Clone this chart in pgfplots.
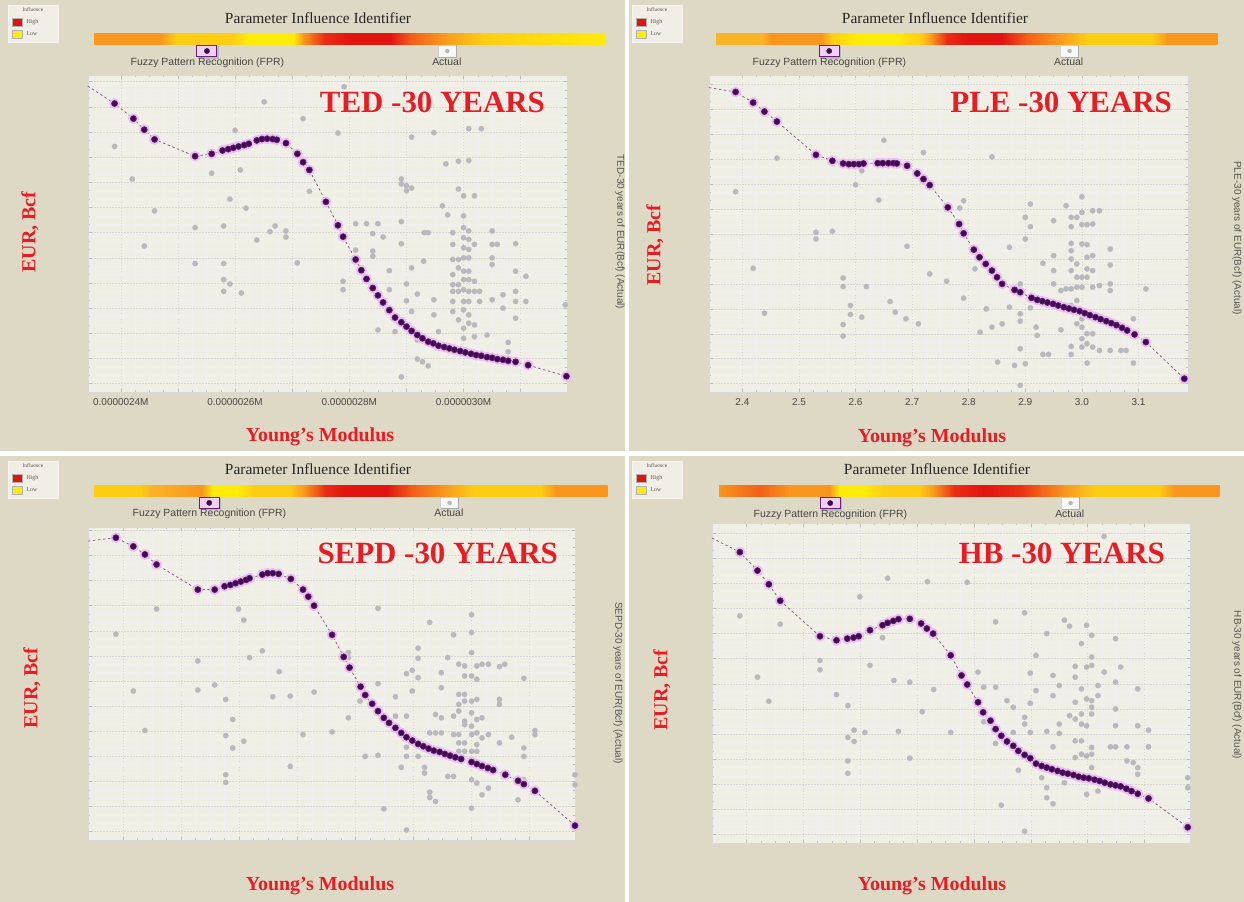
\documentclass[border=0pt]{standalone}
\usepackage{fontspec}
\setmainfont{Liberation Serif}
\setsansfont{Liberation Sans}
\usepackage{pgfplots}
\usepackage{pgfplotstable}
\pgfplotsset{compat=1.18}

\definecolor{panelbg}{RGB}{221,217,197}
\definecolor{plotbg}{RGB}{240,239,229}
\definecolor{actualgray}{RGB}{185,185,189}
\definecolor{fprdot}{RGB}{60,12,76}
\definecolor{fprmid}{RGB}{105,30,120}
\definecolor{fprline}{RGB}{140,95,145}
\definecolor{fprglow}{RGB}{234,190,240}
\definecolor{titlered}{RGB}{232,28,36}
\definecolor{bo}{RGB}{248,150,30}
\definecolor{blo}{RGB}{250,180,40}
\definecolor{byo}{RGB}{253,205,20}
\definecolor{by}{RGB}{255,235,10}
\definecolor{br}{RGB}{235,45,20}
\definecolor{bdr}{RGB}{225,20,15}
\definecolor{bro}{RGB}{242,95,25}

% ---------------- data ----------------
\pgfplotstableread[row sep=\\]{x y\\
2.342 91.2\\ 2.389 86.0\\ 2.422 81.5\\ 2.441 78.2\\ 2.459 75.3\\ 2.530 70.3\\ 2.559 71.0\\ 2.578 72.0\\
2.588 72.4\\ 2.597 72.8\\ 2.606 73.2\\ 2.616 73.6\\ 2.624 74.0\\ 2.638 75.0\\ 2.647 75.4\\ 2.656 75.5\\
2.666 75.4\\ 2.673 75.2\\ 2.689 74.2\\ 2.709 71.0\\ 2.719 68.5\\ 2.730 66.2\\ 2.759 56.7\\ 2.780 49.7\\
2.789 46.3\\ 2.811 39.5\\ 2.821 36.3\\ 2.830 33.7\\ 2.841 31.0\\ 2.850 28.8\\ 2.859 26.7\\ 2.870 24.4\\
2.880 22.2\\ 2.891 20.8\\ 2.900 19.5\\ 2.909 18.2\\ 2.919 17.0\\ 2.928 16.0\\ 2.938 15.0\\ 2.947 14.5\\
2.956 13.8\\ 2.966 13.4\\ 2.975 13.0\\ 2.984 12.6\\ 2.994 12.2\\ 3.003 11.8\\ 3.013 11.4\\ 3.022 11.0\\
3.031 10.8\\ 3.041 10.4\\ 3.050 10.2\\ 3.059 9.8\\ 3.069 9.6\\ 3.078 9.3\\ 3.091 9.0\\ 3.113 8.0\\ 3.180 4.7\\
}\tedFPR

\pgfplotstableread[row sep=\\]{x y\\
2.389 73.2\\ 2.420 63.5\\ 2.441 43.5\\ 2.459 54.0\\ 2.530 49.0\\ 2.530 38.3\\ 2.559 65.2\\ 2.580 49.5\\
2.580 38.3\\ 2.580 33.5\\ 2.591 32.2\\ 2.580 30.0\\ 2.591 57.5\\ 2.600 78.0\\ 2.609 66.2\\ 2.611 29.5\\
2.619 54.8\\ 2.638 45.3\\ 2.651 86.5\\ 2.661 47.8\\ 2.670 49.5\\ 2.689 48.0\\ 2.689 46.2\\ 2.709 38.5\\
2.719 81.5\\ 2.730 59.8\\ 2.780 77.2\\ 2.791 91.0\\ 2.789 33.0\\ 2.789 30.5\\ 2.811 50.2\\ 2.811 42.3\\
2.830 50.2\\ 2.841 47.2\\ 2.841 42.0\\ 2.841 40.5\\ 2.850 50.2\\ 2.859 46.2\\ 2.870 36.2\\ 2.870 30.5\\
2.850 18.5\\ 2.880 18.0\\ 2.891 63.5\\ 2.891 62.0\\ 2.891 50.8\\ 2.891 44.2\\ 2.891 4.5\\ 2.900 61.5\\
2.900 60.0\\ 2.909 60.8\\ 2.909 76.0\\ 2.909 37.0\\ 2.900 32.2\\ 2.900 27.2\\ 2.909 24.0\\ 2.919 29.2\\
2.919 15.5\\ 2.919 9.8\\ 2.928 9.0\\ 2.938 7.8\\ 2.930 39.0\\ 2.931 47.5\\ 2.938 47.5\\ 2.948 77.3\\
2.948 27.5\\ 2.948 23.0\\ 2.956 18.0\\ 2.963 55.5\\ 2.969 68.0\\ 2.972 52.8\\ 2.981 47.5\\ 2.981 44.0\\
2.981 39.5\\ 2.981 35.0\\ 2.981 32.0\\ 2.981 30.0\\ 2.981 27.0\\ 2.981 24.0\\ 2.991 68.8\\ 2.991 60.5\\
2.991 39.5\\ 2.991 37.0\\ 2.991 32.0\\ 2.991 30.0\\ 2.991 21.5\\ 3.000 58.5\\ 3.000 52.5\\ 3.000 49.0\\
3.000 46.0\\ 3.000 43.0\\ 3.000 40.0\\ 3.000 36.0\\ 3.000 33.5\\ 3.000 30.5\\ 3.000 27.0\\ 3.000 24.5\\
3.000 19.0\\ 3.000 16.0\\ 3.009 78.5\\ 3.009 69.0\\ 3.009 48.0\\ 3.009 45.5\\ 3.009 42.5\\ 3.009 40.0\\
3.009 36.0\\ 3.009 33.5\\ 3.009 30.0\\ 3.009 27.0\\ 3.009 23.0\\ 3.009 20.5\\ 3.019 58.5\\ 3.019 44.0\\
3.019 33.0\\ 3.019 30.0\\ 3.019 20.0\\ 3.019 16.5\\ 3.028 30.0\\ 3.028 27.0\\ 3.031 78.5\\ 3.041 17.0\\
3.050 48.0\\ 3.050 44.0\\ 3.050 40.0\\ 3.050 38.0\\ 3.050 27.5\\ 3.059 44.0\\ 3.069 29.0\\ 3.069 25.0\\
3.078 14.8\\ 3.078 12.0\\ 3.091 44.2\\ 3.091 36.0\\ 3.091 30.0\\ 3.091 27.0\\ 3.091 22.0\\ 3.109 34.5\\
3.109 27.0\\ 3.178 26.0\\
}\tedActual

\pgfplotstableread[row sep=\\]{x y\\
2.341 91.5\\ 2.388 90.2\\ 2.419 87.0\\ 2.439 84.3\\ 2.461 81.3\\ 2.530 71.3\\ 2.559 69.5\\ 2.578 68.7\\
2.588 68.5\\ 2.597 68.5\\ 2.606 68.5\\ 2.614 68.7\\ 2.639 68.8\\ 2.648 68.8\\ 2.658 68.8\\ 2.667 68.8\\
2.673 68.7\\ 2.691 68.0\\ 2.709 65.7\\ 2.720 64.0\\ 2.731 62.2\\ 2.763 55.5\\ 2.783 50.5\\ 2.791 47.7\\
2.809 42.8\\ 2.819 40.5\\ 2.830 38.5\\ 2.841 36.5\\ 2.850 34.5\\ 2.859 32.5\\ 2.881 30.7\\ 2.891 30.0\\
2.911 28.3\\ 2.921 27.7\\ 2.930 27.3\\ 2.939 26.9\\ 2.949 26.5\\ 2.958 26.0\\ 2.968 25.5\\ 2.977 25.1\\
2.986 24.7\\ 2.996 24.3\\ 3.005 23.7\\ 3.014 23.1\\ 3.024 22.5\\ 3.033 21.9\\ 3.043 21.3\\ 3.052 20.7\\
3.061 20.1\\ 3.071 19.3\\ 3.080 18.5\\ 3.093 17.3\\ 3.113 15.0\\ 3.181 4.0\\
}\pleFPR

\pgfplotstableread[row sep=\\]{x y\\
2.388 60.2\\ 2.419 37.2\\ 2.439 23.7\\ 2.461 70.3\\ 2.530 48.0\\ 2.530 46.0\\ 2.559 48.3\\ 2.578 34.3\\
2.578 31.7\\ 2.578 20.3\\ 2.578 16.8\\ 2.591 26.0\\ 2.591 23.3\\ 2.600 62.3\\ 2.611 66.5\\ 2.611 22.5\\
2.619 31.7\\ 2.641 57.7\\ 2.650 75.7\\ 2.661 27.2\\ 2.670 24.0\\ 2.689 22.0\\ 2.691 43.8\\ 2.711 20.5\\
2.720 72.0\\ 2.731 35.5\\ 2.761 33.3\\ 2.784 55.3\\ 2.791 57.5\\ 2.791 28.2\\ 2.811 37.0\\ 2.820 18.0\\
2.831 25.0\\ 2.841 70.7\\ 2.841 19.5\\ 2.851 9.0\\ 2.859 20.5\\ 2.872 43.5\\ 2.872 25.5\\ 2.881 8.0\\
2.891 32.5\\ 2.891 23.5\\ 2.891 21.3\\ 2.891 13.0\\ 2.891 2.0\\ 2.900 52.5\\ 2.900 46.0\\ 2.900 8.5\\
2.909 56.5\\ 2.909 49.7\\ 2.909 25.3\\ 2.919 19.5\\ 2.921 17.0\\ 2.931 38.7\\ 2.931 11.3\\ 2.941 11.3\\
2.950 41.0\\ 2.950 36.5\\ 2.950 32.5\\ 2.950 51.5\\ 2.963 30.5\\ 2.963 18.7\\ 2.972 56.0\\ 2.972 31.0\\
2.981 52.5\\ 2.981 49.7\\ 2.981 44.7\\ 2.981 42.5\\ 2.981 40.0\\ 2.981 36.5\\ 2.981 31.0\\ 2.981 26.0\\
2.981 13.7\\ 2.981 11.3\\ 2.991 52.5\\ 2.991 38.5\\ 2.991 34.5\\ 2.991 31.5\\ 2.991 27.5\\ 2.991 20.5\\
3.000 58.7\\ 3.000 54.0\\ 3.000 50.3\\ 3.000 44.5\\ 3.000 34.5\\ 3.000 31.5\\ 3.000 22.0\\ 3.000 19.5\\
3.000 16.0\\ 3.000 13.5\\ 3.009 50.3\\ 3.009 44.3\\ 3.009 40.5\\ 3.009 37.0\\ 3.009 34.5\\ 3.009 17.5\\
3.009 14.5\\ 3.009 8.7\\ 3.019 54.5\\ 3.019 50.5\\ 3.019 41.0\\ 3.019 36.5\\ 3.019 31.5\\ 3.019 17.5\\
3.019 13.5\\ 3.031 54.5\\ 3.031 32.0\\ 3.031 12.5\\ 3.041 21.0\\ 3.050 43.0\\ 3.050 38.2\\ 3.050 32.5\\
3.050 30.5\\ 3.050 12.5\\ 3.069 12.5\\ 3.078 12.5\\ 3.091 22.0\\ 3.091 8.7\\ 3.113 31.0\\
}\pleActual

\pgfplotstableread[row sep=\\]{x y\\
2.340 89.3\\ 2.388 90.3\\ 2.418 87.7\\ 2.438 85.3\\ 2.458 82.3\\ 2.529 74.8\\ 2.558 74.8\\ 2.575 75.8\\
2.585 76.2\\ 2.594 76.7\\ 2.603 77.2\\ 2.612 77.7\\ 2.618 78.2\\ 2.640 79.3\\ 2.649 79.7\\ 2.658 79.7\\
2.668 79.5\\ 2.689 78.0\\ 2.710 74.8\\ 2.719 72.7\\ 2.729 70.0\\ 2.760 61.3\\ 2.780 54.7\\ 2.790 51.5\\
2.809 45.8\\ 2.817 43.3\\ 2.829 40.7\\ 2.839 38.5\\ 2.849 36.5\\ 2.858 35.0\\ 2.869 33.5\\ 2.879 32.0\\
2.888 30.7\\ 2.898 29.7\\ 2.908 28.7\\ 2.917 28.0\\ 2.926 27.3\\ 2.935 26.7\\ 2.945 26.3\\ 2.954 25.7\\
2.963 25.2\\ 2.972 24.7\\ 2.982 24.2\\ 3.000 23.3\\ 3.009 22.7\\ 3.018 22.1\\ 3.028 21.5\\ 3.037 20.9\\
3.058 19.5\\ 3.080 17.7\\ 3.090 16.7\\ 3.109 14.7\\ 3.178 4.3\\
}\sepdFPR

\pgfplotstableread[row sep=\\]{x y\\
2.388 61.5\\ 2.418 44.5\\ 2.438 32.7\\ 2.458 69.0\\ 2.529 53.5\\ 2.529 44.8\\ 2.558 46.3\\ 2.577 42.0\\
2.577 31.2\\ 2.577 19.5\\ 2.577 17.2\\ 2.589 36.0\\ 2.589 27.5\\ 2.599 69.0\\ 2.608 65.7\\ 2.608 29.5\\
2.618 54.5\\ 2.640 56.5\\ 2.658 42.8\\ 2.669 50.3\\ 2.688 43.0\\ 2.688 22.0\\ 2.710 31.5\\ 2.729 44.2\\
2.760 32.3\\ 2.788 56.0\\ 2.788 54.5\\ 2.788 36.5\\ 2.808 41.5\\ 2.817 25.0\\ 2.839 69.2\\ 2.839 46.7\\
2.839 25.3\\ 2.849 9.3\\ 2.869 42.8\\ 2.869 37.0\\ 2.879 21.7\\ 2.888 49.7\\ 2.888 37.0\\ 2.888 27.7\\
2.888 25.0\\ 2.888 3.0\\ 2.898 50.7\\ 2.898 44.5\\ 2.908 57.3\\ 2.908 54.3\\ 2.908 48.5\\ 2.908 25.0\\
2.919 21.7\\ 2.919 20.0\\ 2.928 65.0\\ 2.928 32.0\\ 2.928 14.3\\ 2.928 12.7\\ 2.938 37.5\\ 2.938 32.0\\
2.938 11.5\\ 2.948 50.0\\ 2.948 45.5\\ 2.948 36.5\\ 2.948 32.0\\ 2.959 54.5\\ 2.959 19.0\\ 2.969 61.3\\
2.969 37.0\\ 2.969 31.5\\ 2.969 19.0\\ 2.978 52.5\\ 2.978 43.5\\ 2.978 40.5\\ 2.978 38.5\\ 2.978 31.5\\
2.978 29.0\\ 2.978 26.5\\ 2.988 52.0\\ 2.988 49.0\\ 2.988 43.5\\ 2.988 41.5\\ 2.988 35.5\\ 2.988 34.5\\
2.988 29.0\\ 2.988 26.5\\ 3.000 67.3\\ 3.000 62.0\\ 3.000 56.0\\ 3.000 49.0\\ 3.000 41.5\\ 3.000 38.0\\
3.000 34.0\\ 3.000 31.5\\ 3.000 26.5\\ 3.000 18.0\\ 3.000 9.5\\ 3.009 52.0\\ 3.009 48.0\\ 3.009 42.0\\
3.009 36.0\\ 3.009 32.0\\ 3.009 28.5\\ 3.009 26.5\\ 3.009 17.0\\ 3.018 52.5\\ 3.018 36.5\\ 3.018 30.5\\
3.018 13.5\\ 3.029 52.5\\ 3.029 31.5\\ 3.029 15.5\\ 3.048 51.8\\ 3.048 42.0\\ 3.048 40.5\\ 3.048 29.0\\
3.057 52.5\\ 3.069 30.7\\ 3.080 12.0\\ 3.090 48.3\\ 3.090 27.5\\ 3.090 25.0\\ 3.090 18.0\\ 3.109 32.7\\
3.109 31.5\\ 3.178 19.5\\ 3.178 16.5\\
}\sepdActual

\pgfplotstableread[row sep=\\]{x y\\
2.339 91.0\\ 2.388 86.8\\ 2.419 81.3\\ 2.439 77.2\\ 2.459 72.3\\ 2.529 61.7\\ 2.558 60.5\\ 2.577 61.0\\
2.588 61.3\\ 2.597 61.7\\ 2.617 63.5\\ 2.639 65.0\\ 2.648 65.7\\ 2.658 66.3\\ 2.667 66.8\\ 2.687 66.9\\
2.707 65.5\\ 2.717 64.0\\ 2.728 62.5\\ 2.759 56.0\\ 2.778 50.0\\ 2.788 47.3\\ 2.807 42.0\\ 2.816 39.0\\
2.829 36.5\\ 2.838 34.0\\ 2.848 32.0\\ 2.858 30.3\\ 2.869 29.0\\ 2.878 27.5\\ 2.889 26.3\\ 2.899 25.3\\
2.909 23.7\\ 2.919 23.0\\ 2.928 22.5\\ 2.937 22.0\\ 2.947 21.5\\ 2.956 21.0\\ 2.965 20.7\\ 2.975 20.3\\
2.984 19.8\\ 2.993 19.5\\ 3.002 19.3\\ 3.012 18.9\\ 3.021 18.5\\ 3.030 18.0\\ 3.040 17.5\\ 3.049 17.2\\
3.058 16.9\\ 3.068 16.2\\ 3.077 15.5\\ 3.088 14.7\\ 3.107 13.3\\ 3.176 4.7\\
}\hbFPR

\pgfplotstableread[row sep=\\]{x y\\
2.388 67.8\\ 2.419 49.5\\ 2.439 42.3\\ 2.459 65.3\\ 2.529 54.5\\ 2.529 51.7\\ 2.558 44.3\\ 2.578 41.0\\
2.578 31.5\\ 2.578 24.5\\ 2.578 20.8\\ 2.589 33.7\\ 2.589 30.3\\ 2.599 73.5\\ 2.608 33.0\\ 2.617 53.0\\
2.639 61.3\\ 2.648 79.0\\ 2.659 48.5\\ 2.667 33.3\\ 2.687 48.0\\ 2.687 25.3\\ 2.709 39.2\\ 2.718 78.0\\
2.729 45.8\\ 2.759 33.0\\ 2.788 77.8\\ 2.807 51.0\\ 2.817 46.5\\ 2.817 36.2\\ 2.838 66.0\\ 2.838 46.5\\
2.838 29.7\\ 2.848 11.3\\ 2.858 42.5\\ 2.869 40.5\\ 2.869 33.0\\ 2.878 21.7\\ 2.889 68.7\\ 2.889 37.5\\
2.889 35.5\\ 2.889 3.5\\ 2.899 50.7\\ 2.899 41.7\\ 2.899 33.0\\ 2.909 56.0\\ 2.909 45.5\\ 2.919 19.5\\
2.928 62.5\\ 2.928 33.3\\ 2.928 16.5\\ 2.928 13.5\\ 2.939 50.0\\ 2.939 44.0\\ 2.939 28.7\\ 2.939 11.7\\
2.950 47.0\\ 2.950 35.5\\ 2.950 32.7\\ 2.959 66.5\\ 2.959 18.0\\ 2.968 64.7\\ 2.968 38.0\\ 2.978 52.7\\
2.978 49.5\\ 2.978 42.0\\ 2.978 37.0\\ 2.978 30.5\\ 2.978 25.5\\ 2.989 59.5\\ 2.989 46.0\\ 2.989 38.5\\
2.989 35.5\\ 2.989 30.5\\ 2.989 26.5\\ 2.998 65.0\\ 2.998 52.5\\ 2.998 43.0\\ 2.998 35.0\\ 2.998 26.0\\
2.998 14.5\\ 3.007 62.0\\ 3.007 55.5\\ 3.007 53.0\\ 3.007 42.5\\ 3.007 40.5\\ 3.007 38.5\\ 3.007 28.5\\
3.007 26.5\\ 3.007 22.5\\ 3.018 47.0\\ 3.018 44.0\\ 3.018 15.5\\ 3.029 51.0\\ 3.029 91.5\\ 3.040 28.7\\
3.049 61.0\\ 3.049 48.0\\ 3.049 40.0\\ 3.049 35.0\\ 3.049 28.7\\ 3.058 52.5\\ 3.069 28.7\\ 3.069 24.5\\
3.080 24.0\\ 3.088 46.0\\ 3.088 35.0\\ 3.088 22.5\\ 3.088 20.5\\ 3.107 33.7\\ 3.107 28.7\\ 3.176 19.5\\
3.176 16.5\\
}\hbActual

% ---------------- styles ----------------
\pgfplotsset{
  panel/.style={
    scale only axis, anchor=south west, clip=false,
    axis background/.style={fill=plotbg},
    axis line style={gray!30},
    ymin=0,
    xtick={2.4,2.5,2.6,2.7,2.8,2.9,3.0,3.1},
    ytick={2.5,10,17.5,25,32.5,40,47.5,55,62.5,70,77.5,85,92.5},
    yticklabels={},
    minor x tick num=3, minor y tick num=2,
    grid=both,
    major grid style={gray!32, line width=0.5bp, dash pattern=on 1.5bp off 1.5bp},
    minor grid style={gray!12, line width=0.4bp},
    tick align=inside,
    major tick length=3.5bp, minor tick length=2bp,
    tick style={gray!50, line width=0.5bp},
    xticklabel style={font=\sffamily\fontsize{10}{11}\selectfont, text=gray!55!black, yshift=-3bp},
    legend columns=2,
    legend cell align=left,
    legend style={draw=none, fill=none, inner sep=0pt, outer sep=0pt, anchor=west,
      font=\sffamily\fontsize{10.5}{12}\selectfont, text=gray!55!black,
      nodes={inner sep=1bp}},
  },
  actual/.style={only marks, mark=*, mark size=2.7bp, actualgray,
    mark options={fill=actualgray, draw=actualgray, line width=0.2bp}, forget plot},
  glow/.style={only marks, mark=*, mark size=5.2bp, fprglow,
    mark options={fill=fprglow, draw=fprglow, line width=0.2bp}, forget plot,
    skip coords between index={0}{1}},
  fprcurve/.style={fprline, line width=0.8bp, dash pattern=on 2.5bp off 2.5bp,
    no markers, forget plot},
  fprdots/.style={only marks, mark=*, mark size=3.0bp, fprmid,
    mark options={fill=fprdot, draw=fprmid, line width=0.7bp}, forget plot,
    skip coords between index={0}{1}},
  fpr legend/.style={legend image code/.code={
    \path (0,0);
    \begin{scope}[overlay, shift={(85bp,11bp)}]
      \fill[gray!55] (-8.5bp,-6.8bp) rectangle (11bp,4.5bp);
      \filldraw[fill=fprglow!70!white, draw=fprmid, line width=0.9bp]
        (-10bp,-5.5bp) rectangle (10bp,5.5bp);
      \fill[fprdot] (0bp,0bp) circle (2.6bp);
    \end{scope}}},
  actual legend/.style={legend image code/.code={
    \path (0,0);
    \begin{scope}[overlay, shift={(155bp,11bp)}]
      \filldraw[fill=gray!6, draw=gray!35, line width=0.6bp]
        (-9bp,-6bp) rectangle (9bp,6bp);
      \draw[gray!65, line width=0.9bp] (-9bp,-6bp) -- (9bp,-6bp) -- (9bp,6bp);
      \fill[actualgray] (0bp,0bp) circle (2bp);
    \end{scope}}},
}

% colour bar of the influence ranking: left x, right x, top y, segments a/colour/b/colour
\newcommand{\influencebar}[4]{%
  \foreach \a/\ca/\b/\cb in {#4}{%
    \shade[left color=\ca, right color=\cb]
      ({#1+(#2-#1)*\a}, #3) rectangle ({#1+(#2-#1)*\b+0.6}, {#3+11});
  }%
}

% small key of the colour bar
\newcommand{\influencekey}[2]{%
  \begin{scope}[shift={(#1,#2)}]
    \filldraw[fill=white!55!panelbg, draw=white!70!panelbg, line width=0.8] (0,0) rectangle (50,37);
    \node[font=\fontsize{5.5}{6}\selectfont, text=gray!70!black] at (25,5) {Influence};
    \filldraw[fill=bdr, draw=gray!60, line width=0.4] (4,13) rectangle (14,21);
    \node[anchor=west, font=\fontsize{6}{7}\selectfont, text=gray!75!black] at (15,17) {High};
    \filldraw[fill=by, draw=gray!60, line width=0.4] (4,25) rectangle (14,33);
    \node[anchor=west, font=\fontsize{6}{7}\selectfont, text=gray!75!black] at (15,29) {Low};
  \end{scope}%
}

% key, colour bar and heading of one panel
\newcommand{\panelframe}[8]{%
  % #1 key x, #2 key y, #3 bar left, #4 bar right, #5 bar top, #6 heading x, #7 heading y, #8 segments
  \influencekey{#1}{#2}
  \influencebar{#3}{#4}{#5}{#8}
  \node[font=\fontsize{15.5}{16}\selectfont, text=black!85] at (#6,#7) {Parameter Influence Identifier};
}

\begin{document}
\begin{tikzpicture}
\path[use as bounding box] (0,0) rectangle (1244bp,-902bp);
\fill[panelbg] (0,0) rectangle (1244bp,-902bp);

\begin{scope}[x=1bp, y=-1bp]
  \fill[white] (625,0) rectangle (629,902);
  \fill[white] (0,451) rectangle (1244,456);

  \panelframe{8}{5}{94}{605}{33}{318}{18}{%
    0/bo/0.13/bo, 0.13/bo/0.16/byo, 0.16/byo/0.27/byo, 0.27/byo/0.30/by, 0.30/by/0.39/by,
    0.39/by/0.41/bo, 0.41/bo/0.45/br, 0.45/br/0.50/bdr, 0.50/bdr/0.58/bdr, 0.58/bdr/0.62/bro,
    0.62/bro/0.68/bo, 0.68/bo/0.76/byo, 0.76/byo/1/by}
  \panelframe{632}{5}{716}{1217}{33}{935}{18}{%
    0/blo/0.09/blo, 0.09/blo/0.11/bo, 0.11/bo/0.21/bo, 0.21/bo/0.23/byo, 0.23/byo/0.28/by,
    0.28/by/0.36/by, 0.36/by/0.41/byo, 0.41/byo/0.43/bo, 0.43/bo/0.46/br, 0.46/br/0.50/bdr,
    0.50/bdr/0.57/bdr, 0.57/bdr/0.62/bro, 0.62/bro/0.68/bo, 0.68/bo/0.74/byo, 0.74/byo/0.87/byo,
    0.87/byo/0.90/bo, 0.90/bo/1/bo}
  \panelframe{8}{461}{94}{607}{485}{318}{469}{%
    0/byo/0.09/byo, 0.09/byo/0.11/blo, 0.11/blo/0.21/bo, 0.21/bo/0.23/by, 0.23/by/0.28/by,
    0.28/by/0.31/byo, 0.31/byo/0.38/byo, 0.38/byo/0.41/bo, 0.41/bo/0.45/br, 0.45/br/0.49/bdr,
    0.49/bdr/0.57/bdr, 0.57/bdr/0.62/bro, 0.62/bro/0.68/bo, 0.68/bo/0.74/byo, 0.74/byo/0.87/byo,
    0.87/byo/0.90/bo, 0.90/bo/1/bo}
  \panelframe{632}{461}{719}{1219}{485}{937}{469}{%
    0/bo/0.08/bro, 0.08/bro/0.14/bo, 0.14/bo/0.22/bo, 0.22/bo/0.24/by, 0.24/by/0.29/by,
    0.29/by/0.33/byo, 0.33/byo/0.40/byo, 0.40/byo/0.43/bo, 0.43/bo/0.47/br, 0.47/br/0.53/bdr,
    0.53/bdr/0.60/br, 0.60/br/0.64/bro, 0.64/bro/0.69/bo, 0.69/bo/0.75/byo, 0.75/byo/0.88/byo,
    0.88/byo/0.91/bo, 0.91/bo/1/bo}
\end{scope}

% ---------------- TED ----------------
\begin{axis}[panel, at={(88bp,-392bp)}, width=479bp, height=317bp,
  xmin=2.3425, xmax=3.181, ymax=94.5,
  xticklabels={0.0000024M,,0.0000026M,,0.0000028M,,0.0000030M,},
  legend style={at={(0.071,1.041)}}]
  \addlegendimage{fpr legend}
  \addlegendentry{\makebox[168bp]{Fuzzy Pattern Recognition (FPR)}}
  \addlegendimage{actual legend}
  \addlegendentry{\makebox[306bp]{Actual}}
  \addplot[actual] table {\tedActual};
  \addplot[glow] table {\tedFPR};
  \addplot[fprcurve] table {\tedFPR};
  \addplot[fprdots] table {\tedFPR};
\end{axis}

% ---------------- PLE ----------------
\begin{axis}[panel, at={(709bp,-392bp)}, width=479bp, height=317bp,
  xmin=2.341, xmax=3.1875, ymax=95.3,
  xticklabels={2.4,2.5,2.6,2.7,2.8,2.9,3.0,3.1},
  legend style={at={(0.073,1.041)}}]
  \addlegendimage{fpr legend}
  \addlegendentry{\makebox[168bp]{Fuzzy Pattern Recognition (FPR)}}
  \addlegendimage{actual legend}
  \addlegendentry{\makebox[306bp]{Actual}}
  \addplot[actual] table {\pleActual};
  \addplot[glow] table {\pleFPR};
  \addplot[fprcurve] table {\pleFPR};
  \addplot[fprdots] table {\pleFPR};
\end{axis}

% ---------------- SEPD ----------------
\begin{axis}[panel, at={(88bp,-840bp)}, width=487bp, height=313bp,
  xmin=2.340, xmax=3.178, ymax=93.5,
  xticklabels={},
  legend style={at={(0.074,1.042)}}]
  \addlegendimage{fpr legend}
  \addlegendentry{\makebox[168bp]{Fuzzy Pattern Recognition (FPR)}}
  \addlegendimage{actual legend}
  \addlegendentry{\makebox[306bp]{Actual}}
  \addplot[actual] table {\sepdActual};
  \addplot[glow] table {\sepdFPR};
  \addplot[fprcurve] table {\sepdFPR};
  \addplot[fprdots] table {\sepdFPR};
\end{axis}

% ---------------- HB ----------------
\begin{axis}[panel, at={(712bp,-843bp)}, width=478bp, height=320bp,
  xmin=2.339, xmax=3.180, ymax=95.5,
  xticklabels={},
  legend style={at={(0.069,1.028)}}]
  \addlegendimage{fpr legend}
  \addlegendentry{\makebox[168bp]{Fuzzy Pattern Recognition (FPR)}}
  \addlegendimage{actual legend}
  \addlegendentry{\makebox[306bp]{Actual}}
  \addplot[actual] table {\hbActual};
  \addplot[glow] table {\hbFPR};
  \addplot[fprcurve] table {\hbFPR};
  \addplot[fprdots] table {\hbFPR};
\end{axis}

% ---------------- titles and axis names ----------------
\begin{scope}[x=1bp, y=-1bp]
  \tikzset{big/.style={font=\bfseries\fontsize{31}{31}\selectfont, text=titlered, inner sep=0pt},
           axname/.style={font=\bfseries\fontsize{20}{20}\selectfont, text=titlered, inner sep=0pt},
           side/.style={rotate=-90, font=\sffamily\fontsize{10}{10}\selectfont, text=gray!65!black}}
  \node[big, anchor=base east] at (545,112) {TED -30 YEARS};
  \node[big, anchor=base east] at (1172,112) {PLE -30 YEARS};
  \node[big, anchor=base east] at (558,563) {SEPD -30 YEARS};
  \node[big, anchor=base east] at (1165,563) {HB -30 YEARS};

  \node[axname, rotate=90] at (30,232) {EUR, Bcf};
  \node[axname, rotate=90] at (655,245) {EUR, Bcf};
  \node[axname, rotate=90] at (32,688) {EUR, Bcf};
  \node[axname, rotate=90] at (662,690) {EUR, Bcf};

  \node[axname] at (320,437) {Young’s Modulus};
  \node[axname] at (932,438) {Young’s Modulus};
  \node[axname] at (320,886) {Young’s Modulus};
  \node[axname] at (932,886) {Young’s Modulus};

  \node[side] at (620,232) {TED-30 years of EUR(Bcf) (Actual)};
  \node[side] at (1237,238) {PLE-30 years of EUR(Bcf) (Actual)};
  \node[side] at (618,683) {SEPD-30 years of EUR(Bcf) (Actual)};
  \node[side] at (1237,685) {HB-30 years of EUR(Bcf) (Actual)};
\end{scope}
\end{tikzpicture}
\end{document}
